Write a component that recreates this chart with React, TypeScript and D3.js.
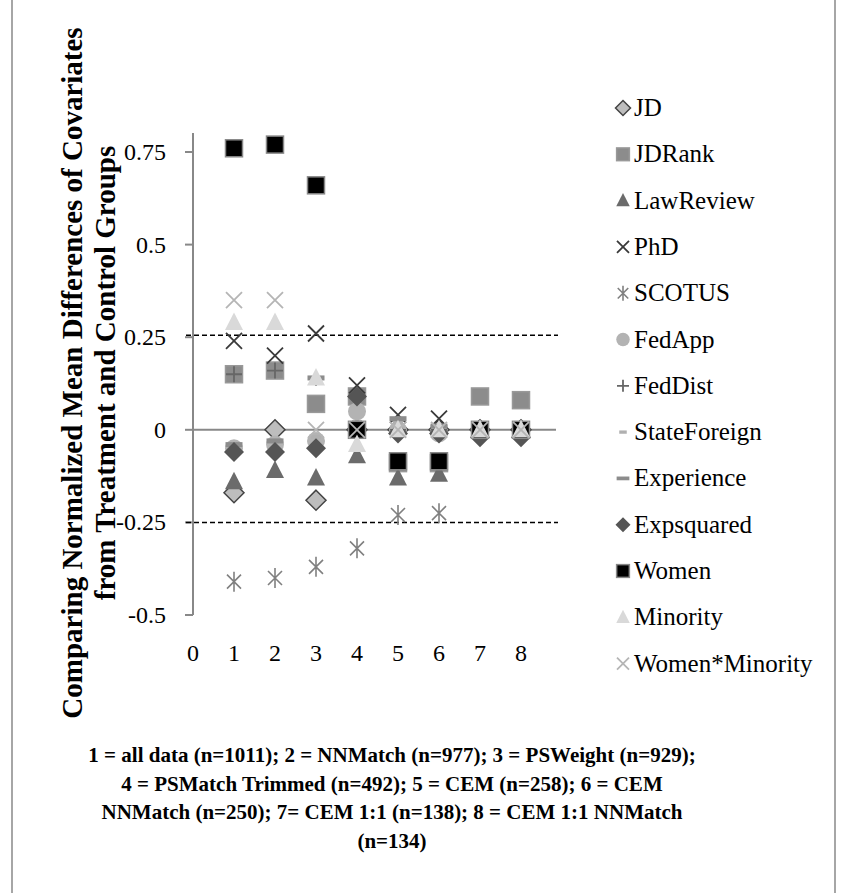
import React from "react";
import * as d3 from "d3";

const xs = [1, 2, 3, 4, 5, 6, 7, 8];
const xTicks = [0, 1, 2, 3, 4, 5, 6, 7, 8];
const yTicks = [-0.5, -0.25, 0, 0.25, 0.5, 0.75];
const thresholds = [0.255, -0.25];

const JD = [-0.17, 0, -0.19, 0, 0, 0, 0, 0];
const JDRank = [0.15, 0.16, 0.07, 0.09, -0.09, -0.09, 0.09, 0.08];
const LawReview = [-0.14, -0.11, -0.13, -0.07, -0.13, -0.12, 0, 0];
const PhD = [0.24, 0.2, 0.26, 0.12, 0.04, 0.03, 0, 0];
const SCOTUS = [-0.41, -0.4, -0.37, -0.32, -0.23, -0.225, 0, 0];
const FedApp = [-0.05, -0.04, -0.03, 0.05, 0, -0.01, 0, 0];
const FedDist = [0.15, 0.16, 0.14, 0.09, 0, 0, 0, 0];
const StateForeign = [-0.04, -0.03, -0.02, 0.02, 0.02, 0.01, 0, 0];
const Experience = [-0.04, -0.03, 0.14, 0.09, 0.03, 0.01, 0, 0];
const Expsquared = [-0.06, -0.06, -0.05, 0.09, -0.01, -0.01, -0.02, -0.02];
const Women = [0.76, 0.77, 0.66, 0, -0.085, -0.085, 0, 0];
const Minority = [0.29, 0.29, 0.14, -0.04, 0, 0, 0, 0];
const WomenMinority = [0.35, 0.35, 0, 0, 0, 0, 0, 0];

type Series = { name: string; values: number[]; shape: string; fill: string; stroke: string };
const series: Series[] = [
  { name: "JD", values: JD, shape: "diamond", fill: "#bdbdbd", stroke: "#444" },
  { name: "JDRank", values: JDRank, shape: "square", fill: "#8c8c8c", stroke: "#999" },
  { name: "LawReview", values: LawReview, shape: "triangle", fill: "#6b6b6b", stroke: "none" },
  { name: "PhD", values: PhD, shape: "x", fill: "none", stroke: "#3a3a3a" },
  { name: "SCOTUS", values: SCOTUS, shape: "star", fill: "none", stroke: "#808080" },
  { name: "FedApp", values: FedApp, shape: "circle", fill: "#b3b3b3", stroke: "none" },
  { name: "FedDist", values: FedDist, shape: "plus", fill: "none", stroke: "#666" },
  { name: "StateForeign", values: StateForeign, shape: "dashS", fill: "#b0b0b0", stroke: "none" },
  { name: "Experience", values: Experience, shape: "dash", fill: "#8c8c8c", stroke: "none" },
  { name: "Expsquared", values: Expsquared, shape: "diamond", fill: "#555", stroke: "none" },
  { name: "Women", values: Women, shape: "square", fill: "#000", stroke: "#888" },
  { name: "Minority", values: Minority, shape: "triangle", fill: "#d9d9d9", stroke: "none" },
  { name: "Women*Minority", values: WomenMinority, shape: "x", fill: "none", stroke: "#b5b5b5" },
];

const x = d3.scaleLinear().domain([0, 8]).range([193, 521]);
const y = d3.scaleLinear().domain([-0.5, 0.75]).range([615, 152]);

function Marker({ s, cx, cy, r }: { s: Series; cx: number; cy: number; r: number }) {
  const t = `translate(${cx},${cy})`;
  switch (s.shape) {
    case "diamond":
      return <path transform={t} d={`M0,${-r}L${r},0L0,${r}L${-r},0Z`} fill={s.fill} stroke={s.stroke} strokeWidth={1.5} />;
    case "square":
      return <rect transform={t} x={-r * 0.85} y={-r * 0.85} width={r * 1.7} height={r * 1.7} fill={s.fill} stroke={s.stroke} strokeWidth={1.5} />;
    case "triangle":
      return <path transform={t} d={`M0,${-r}L${r * 0.9},${r * 0.75}L${-r * 0.9},${r * 0.75}Z`} fill={s.fill} />;
    case "circle":
      return <circle transform={t} r={r * 0.9} fill={s.fill} />;
    case "x":
      return <path transform={t} d={`M${-r * 0.8},${-r * 0.8}L${r * 0.8},${r * 0.8}M${r * 0.8},${-r * 0.8}L${-r * 0.8},${r * 0.8}`} stroke={s.stroke} strokeWidth={1.8} fill="none" />;
    case "star":
      return <path transform={t} d={`M${-r * 0.7},${-r * 0.7}L${r * 0.7},${r * 0.7}M${r * 0.7},${-r * 0.7}L${-r * 0.7},${r * 0.7}M0,${-r}L0,${r}`} stroke={s.stroke} strokeWidth={1.6} fill="none" />;
    case "plus":
      return <path transform={t} d={`M${-r * 0.8},0L${r * 0.8},0M0,${-r * 0.8}L0,${r * 0.8}`} stroke={s.stroke} strokeWidth={1.8} fill="none" />;
    case "dashS":
      return <rect transform={t} x={-r * 0.5} y={-r * 0.22} width={r} height={r * 0.44} fill={s.fill} />;
    default:
      return <rect transform={t} x={-r * 0.85} y={-r * 0.25} width={r * 1.7} height={r * 0.5} fill={s.fill} />;
  }
}

const captionLines = [
  "1 = all data (n=1011); 2 = NNMatch (n=977); 3 = PSWeight (n=929);",
  "4 = PSMatch Trimmed (n=492); 5 = CEM (n=258); 6 = CEM",
  "NNMatch (n=250);  7= CEM 1:1 (n=138); 8 = CEM 1:1 NNMatch",
  "(n=134)",
];

export default function App() {
  const font = "'Liberation Serif', serif";
  return (
    <svg width={842} height={893} style={{ position: "absolute", left: 0, top: 0 }} fontFamily={font}>
      <rect width={842} height={893} fill="#fff" />
      <line x1={12} x2={12} y1={0} y2={893} stroke="#888" strokeWidth={1.5} />
      <line x1={835} x2={835} y1={0} y2={893} stroke="#888" strokeWidth={1.5} />

      {/* y axis */}
      <line x1={193} x2={193} y1={133} y2={615} stroke="#888" strokeWidth={2} />
      {yTicks.map((t) => (
        <g key={t}>
          <line x1={185} x2={193} y1={y(t)} y2={y(t)} stroke="#888" strokeWidth={2} />
          <text x={166} y={y(t) + 8} textAnchor="end" fontSize={24}>{String(t)}</text>
        </g>
      ))}
      <line x1={193} x2={556} y1={y(0)} y2={y(0)} stroke="#888" strokeWidth={2} />
      {thresholds.map((t) => (
        <line key={t} x1={186} x2={558} y1={y(t)} y2={y(t)} stroke="#000" strokeWidth={1.5} strokeDasharray="5,3" />
      ))}
      {xTicks.map((t) => (
        <text key={t} x={x(t)} y={661} textAnchor="middle" fontSize={24}>{t}</text>
      ))}

      {series.map((s) => (
        <g key={s.name}>
          {s.values.map((v, i) => <Marker key={i} s={s} cx={x(xs[i])} cy={y(v)} r={10} />)}
        </g>
      ))}

      {series.map((s, i) => (
        <g key={s.name}>
          <Marker s={s} cx={623} cy={108 + i * 46.3} r={7.5} />
          <text x={634} y={108 + i * 46.3 + 8} fontSize={25}>{s.name}</text>
        </g>
      ))}

      <g transform="translate(0,373) rotate(-90)" fontWeight="bold" fontSize={29} textAnchor="middle">
        <text x={0} y={82}>Comparing Normalized Mean Differences of Covariates</text>
        <text x={0} y={115}>from Treatment and Control Groups</text>
      </g>

      {captionLines.map((l, i) => (
        <text key={i} x={392} y={762 + i * 28.5} textAnchor="middle" fontWeight="bold" fontSize={21}>{l}</text>
      ))}
    </svg>
  );
}
